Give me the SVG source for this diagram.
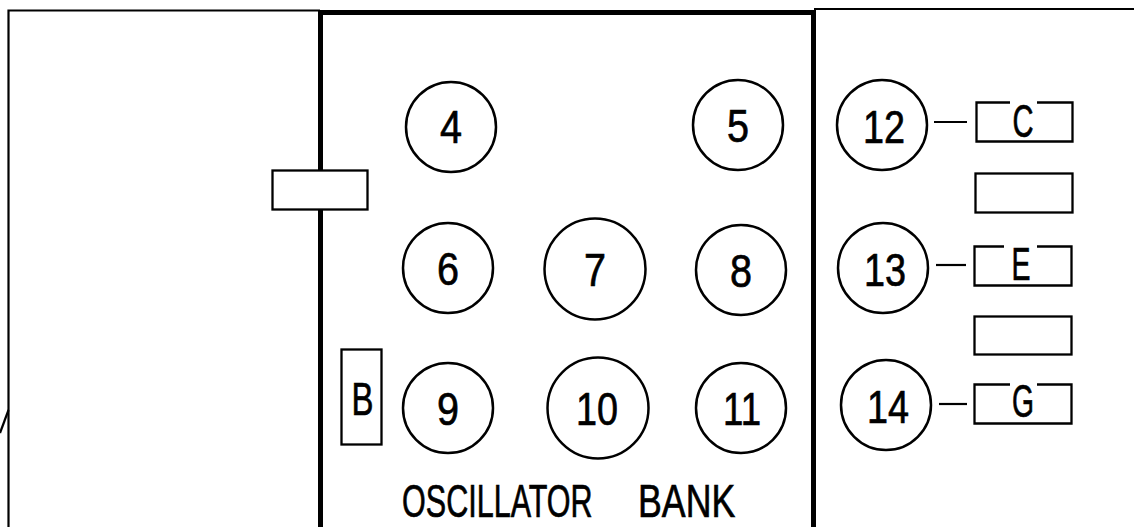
<svg xmlns="http://www.w3.org/2000/svg" width="1134" height="527" viewBox="0 0 1134 527">
<style>
.thin{fill:none;stroke:#000;stroke-width:2.2}
.thick{fill:none;stroke:#000;stroke-width:5}
.knob{fill:#fff;stroke:#000;stroke-width:2.5}
.box{fill:#fff;stroke:#000;stroke-width:2.3}
.lbl{font-family:"Liberation Sans",Arial,sans-serif;font-size:47px;fill:#000;stroke:#000;stroke-width:0.7;text-anchor:middle}
.big{font-family:"Liberation Sans",Arial,sans-serif;font-size:47px;fill:#000;stroke:#000;stroke-width:0.7}
</style>
<rect width="1134" height="527" fill="#fff"/>
<g id="frame">
<path class="thin" d="M8.5,527 V10.5 H320"/>
<path class="thin" d="M8.5,410 L0,433"/>
<path class="thick" d="M318,12.5 H816"/>
<path class="thin" d="M814,9 H1134"/>
<path class="thick" d="M320.5,12 V527"/>
<path class="thick" d="M813.5,12 V527"/>
</g>
<g id="slider"><rect class="box" x="272.5" y="170.5" width="95" height="39"/></g>
<g id="switchB"><rect class="box" x="341.5" y="349.5" width="40" height="95"/><text class="lbl" x="362.5" y="415" textLength="22" lengthAdjust="spacingAndGlyphs">B</text></g>
<g id="k4"><circle class="knob" cx="451" cy="127" r="45"/><text class="lbl" x="451" y="143" textLength="22" lengthAdjust="spacingAndGlyphs">4</text></g>
<g id="k5"><circle class="knob" cx="738" cy="125" r="45"/><text class="lbl" x="738" y="142" textLength="22" lengthAdjust="spacingAndGlyphs">5</text></g>
<g id="k6"><circle class="knob" cx="448" cy="268" r="45"/><text class="lbl" x="448" y="285" textLength="22" lengthAdjust="spacingAndGlyphs">6</text></g>
<g id="k7"><circle class="knob" cx="595" cy="269" r="50.5"/><text class="lbl" x="595" y="286" textLength="22" lengthAdjust="spacingAndGlyphs">7</text></g>
<g id="k8"><circle class="knob" cx="741" cy="270" r="45"/><text class="lbl" x="741" y="287" textLength="22" lengthAdjust="spacingAndGlyphs">8</text></g>
<g id="k9"><circle class="knob" cx="448" cy="408" r="45"/><text class="lbl" x="448" y="425" textLength="22" lengthAdjust="spacingAndGlyphs">9</text></g>
<g id="k10"><circle class="knob" cx="598" cy="408" r="50.5"/><text class="lbl" x="597" y="425" textLength="42" lengthAdjust="spacingAndGlyphs">10</text></g>
<g id="k11"><circle class="knob" cx="741" cy="408" r="45"/><text class="lbl" x="742" y="425" textLength="38" lengthAdjust="spacingAndGlyphs">11</text></g>
<g id="title"><text class="big" transform="translate(402,517) scale(0.65,1)">OSCILLATOR</text><text class="big" transform="translate(638,517) scale(0.76,1)">BANK</text></g>
<g id="k12"><circle class="knob" cx="882" cy="125" r="45"/><text class="lbl" x="884" y="143" textLength="42" lengthAdjust="spacingAndGlyphs">12</text></g>
<g id="k13"><circle class="knob" cx="883" cy="268" r="45"/><text class="lbl" x="885" y="286" textLength="42" lengthAdjust="spacingAndGlyphs">13</text></g>
<g id="k14"><circle class="knob" cx="886" cy="405" r="45"/><text class="lbl" x="888" y="423" textLength="42" lengthAdjust="spacingAndGlyphs">14</text></g>
<g id="boxC"><path class="box" d="M1010,102.5 H976.5 V141.5 H1072.5 V102.5 H1037" fill="none"/><text class="lbl" x="1023" y="137" textLength="21" lengthAdjust="spacingAndGlyphs">C</text></g>
<g id="boxBlank1"><rect class="box" x="975.5" y="173.5" width="97" height="39"/></g>
<g id="boxE"><path class="box" d="M1004,246.5 H974.5 V285.5 H1071.5 V246.5 H1037" fill="none"/><text class="lbl" x="1021" y="280" textLength="19" lengthAdjust="spacingAndGlyphs">E</text></g>
<g id="boxBlank2"><rect class="box" x="974.5" y="316.5" width="97" height="38"/></g>
<g id="boxG"><path class="box" d="M1010,384.5 H974.5 V423.5 H1071.5 V384.5 H1037" fill="none"/><text class="lbl" x="1023" y="417" textLength="22" lengthAdjust="spacingAndGlyphs">G</text></g>
<g id="connectors">
<path class="thin" d="M934,122 H967"/>
<path class="thin" d="M936,265 H966"/>
<path class="thin" d="M939,404 H967"/>
</g>
</svg>
